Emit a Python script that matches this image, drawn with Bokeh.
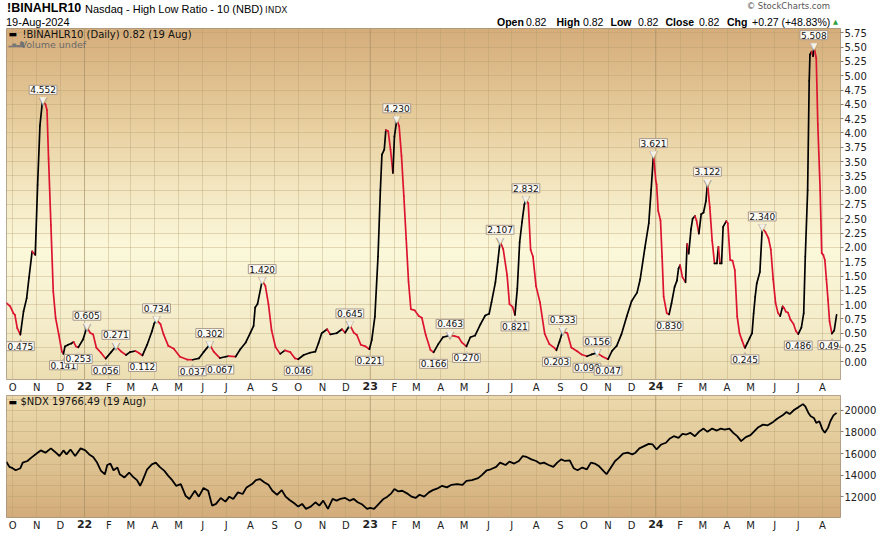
import numpy as np
import pandas as pd
from bokeh.plotting import figure
from bokeh.layouts import column
from bokeh.models import (Range1d, FixedTicker, NumeralTickFormatter, Label, Div, DatetimeAxis,
                          ColumnDataSource, GlobalInlineStyleSheet, Span)
from bokeh.core.properties import value
from bokeh.embed import file_html
from bokeh.resources import INLINE

# ---------------- data ----------------
ratio_dates = [
    "2021-09-23", "2021-09-28", "2021-10-02", "2021-10-04", "2021-10-07", "2021-10-11", "2021-10-15", "2021-10-19",
    "2021-10-22", "2021-10-26", "2021-10-30", "2021-11-02", "2021-11-05", "2021-11-08", "2021-11-09", "2021-11-12",
    "2021-11-14", "2021-11-16", "2021-11-19", "2021-11-22", "2021-11-25", "2021-11-29", "2021-12-03", "2021-12-05",
    "2021-12-07", "2021-12-11", "2021-12-15", "2021-12-18", "2021-12-21", "2021-12-24", "2021-12-30", "2022-01-04",
    "2022-01-08", "2022-01-12", "2022-01-16", "2022-01-22", "2022-01-28", "2022-02-04", "2022-02-10", "2022-02-17",
    "2022-02-23", "2022-02-28", "2022-03-07", "2022-03-11", "2022-03-16", "2022-03-22", "2022-03-28", "2022-03-31",
    "2022-04-03", "2022-04-08", "2022-04-12", "2022-04-18", "2022-04-25", "2022-05-03", "2022-05-12", "2022-05-19",
    "2022-05-27", "2022-06-02", "2022-06-10", "2022-06-15", "2022-06-23", "2022-06-30", "2022-07-04", "2022-07-13",
    "2022-07-19", "2022-07-26", "2022-08-01", "2022-08-05", "2022-08-07", "2022-08-10", "2022-08-16", "2022-08-20",
    "2022-08-24", "2022-08-28", "2022-09-02", "2022-09-08", "2022-09-14", "2022-09-21", "2022-09-27", "2022-10-01",
    "2022-10-08", "2022-10-16", "2022-10-23", "2022-10-27", "2022-10-31", "2022-11-07", "2022-11-11", "2022-11-19",
    "2022-11-26", "2022-11-30", "2022-12-06", "2022-12-11", "2022-12-15", "2022-12-20", "2022-12-26", "2022-12-31",
    "2023-01-03", "2023-01-07", "2023-01-11", "2023-01-14", "2023-01-16", "2023-01-19", "2023-01-21", "2023-01-24",
    "2023-01-27", "2023-01-30", "2023-02-01", "2023-02-04", "2023-02-07", "2023-02-10", "2023-02-13", "2023-02-16",
    "2023-02-19", "2023-02-22", "2023-02-27", "2023-03-04", "2023-03-08", "2023-03-13", "2023-03-19", "2023-03-23",
    "2023-03-29", "2023-04-04", "2023-04-13", "2023-04-19", "2023-04-24", "2023-04-28", "2023-05-04", "2023-05-09",
    "2023-05-15", "2023-05-22", "2023-05-28", "2023-06-02", "2023-06-05", "2023-06-10", "2023-06-13", "2023-06-16",
    "2023-06-20", "2023-06-25", "2023-06-28", "2023-07-02", "2023-07-05", "2023-07-08", "2023-07-11", "2023-07-14",
    "2023-07-17", "2023-07-19", "2023-07-22", "2023-07-25", "2023-07-28", "2023-08-01", "2023-08-06", "2023-08-12",
    "2023-08-18", "2023-08-24", "2023-08-27", "2023-08-31", "2023-09-04", "2023-09-10", "2023-09-15", "2023-09-22",
    "2023-09-28", "2023-10-05", "2023-10-11", "2023-10-18", "2023-10-24", "2023-11-01", "2023-11-06", "2023-11-12",
    "2023-11-18", "2023-11-25", "2023-12-01", "2023-12-08", "2023-12-12", "2023-12-18", "2023-12-23", "2023-12-26",
    "2023-12-29", "2024-01-01", "2024-01-02", "2024-01-04", "2024-01-07", "2024-01-09", "2024-01-11", "2024-01-15",
    "2024-01-18", "2024-01-21", "2024-01-25", "2024-01-28", "2024-01-30", "2024-02-01", "2024-02-04", "2024-02-08",
    "2024-02-10", "2024-02-12", "2024-02-15", "2024-02-17", "2024-02-20", "2024-02-22", "2024-02-25", "2024-02-28",
    "2024-03-02", "2024-03-05", "2024-03-07", "2024-03-10", "2024-03-13", "2024-03-16", "2024-03-19", "2024-03-21",
    "2024-03-23", "2024-03-25", "2024-03-27", "2024-03-31", "2024-04-02", "2024-04-05", "2024-04-08", "2024-04-11",
    "2024-04-14", "2024-04-17", "2024-04-20", "2024-04-23", "2024-04-24", "2024-04-27", "2024-04-30", "2024-05-03",
    "2024-05-05", "2024-05-07", "2024-05-09", "2024-05-13", "2024-05-16", "2024-05-20", "2024-05-24", "2024-05-27",
    "2024-05-30", "2024-06-02", "2024-06-05", "2024-06-08", "2024-06-11", "2024-06-13", "2024-06-15", "2024-06-18",
    "2024-06-21", "2024-06-25", "2024-06-28", "2024-07-01", "2024-07-05", "2024-07-08", "2024-07-10", "2024-07-13",
    "2024-07-15", "2024-07-16", "2024-07-18", "2024-07-20", "2024-07-21", "2024-07-24", "2024-07-26", "2024-07-29",
    "2024-07-31", "2024-08-02", "2024-08-04", "2024-08-06", "2024-08-08", "2024-08-10", "2024-08-13", "2024-08-16",
    "2024-08-19",
]
ratio_values = [
    1.03, 0.97, 0.85, 0.82, 0.59, 0.475, 0.88, 1.11,
    1.47, 1.93, 1.87, 3.09, 4.13, 4.53, 4.552, 4.50,
    4.40, 3.55, 2.39, 1.23, 0.77, 0.48, 0.18, 0.141,
    0.27, 0.30, 0.32, 0.35, 0.27, 0.253, 0.39, 0.605,
    0.51, 0.48, 0.25, 0.16, 0.056, 0.17, 0.271, 0.18,
    0.12, 0.17, 0.19, 0.16, 0.112, 0.30, 0.53, 0.67,
    0.734, 0.66, 0.48, 0.28, 0.23, 0.09, 0.04, 0.037,
    0.06, 0.17, 0.302, 0.18, 0.067, 0.09, 0.10, 0.09,
    0.22, 0.34, 0.51, 0.63, 0.95, 1.01, 1.420, 1.33,
    1.01, 0.55, 0.26, 0.14, 0.20, 0.17, 0.06, 0.046,
    0.12, 0.16, 0.18, 0.33, 0.50, 0.57, 0.48, 0.50,
    0.57, 0.51, 0.645, 0.51, 0.47, 0.30, 0.27, 0.221,
    0.38, 0.79, 1.84, 3.00, 3.62, 3.71, 4.05, 4.03,
    3.71, 3.30, 3.94, 4.230, 4.12, 3.60, 2.90, 2.15,
    1.40, 0.92, 0.90, 0.80, 0.77, 0.47, 0.21, 0.166,
    0.31, 0.43, 0.463, 0.45, 0.43, 0.34, 0.270, 0.43,
    0.46, 0.66, 0.81, 0.84, 1.04, 1.39, 1.74, 2.107,
    1.97, 1.51, 1.01, 0.96, 0.821, 1.28, 2.09, 2.44,
    2.75, 2.832, 2.77, 1.96, 1.84, 1.32, 1.04, 0.49,
    0.31, 0.25, 0.203, 0.36, 0.533, 0.50, 0.25, 0.19,
    0.13, 0.098, 0.13, 0.156, 0.10, 0.047, 0.19, 0.28,
    0.48, 0.80, 1.06, 1.21, 1.44, 1.99, 2.42, 3.00,
    3.621, 3.16, 3.10, 2.64, 2.47, 1.84, 1.14, 0.85,
    0.830, 1.02, 1.31, 1.42, 1.63, 1.69, 1.48, 1.39,
    2.06, 1.89, 2.32, 2.50, 2.55, 2.47, 2.24, 2.58,
    2.61, 2.81, 3.122, 2.70, 2.12, 1.72, 1.72, 2.01,
    1.72, 1.72, 2.36, 2.46, 2.42, 1.78, 1.77, 1.60,
    0.79, 0.50, 0.38, 0.27, 0.245, 0.33, 0.42, 0.50,
    0.85, 1.14, 1.37, 1.57, 2.340, 2.27, 2.16, 1.96,
    1.44, 1.03, 0.86, 0.80, 0.97, 0.94, 0.88, 0.86,
    0.74, 0.66, 0.54, 0.486, 0.60, 0.85, 1.84, 3.00,
    4.91, 5.37, 5.42, 5.34, 5.508, 5.31, 4.15, 3.00,
    1.90, 1.87, 1.78, 1.44, 1.09, 0.71, 0.494, 0.55,
    0.82,
]
# annotated turning points (values are looked up in the series)
peak_dates = ["2021-11-09", "2022-01-04", "2022-02-10", "2022-04-03", "2022-06-10", "2022-08-16",
              "2022-12-06", "2023-02-04", "2023-04-13", "2023-06-16", "2023-07-19", "2023-09-04",
              "2023-10-18", "2023-12-29", "2024-03-07", "2024-05-16", "2024-07-21"]
trough_dates = ["2021-10-11", "2021-12-05", "2021-12-24", "2022-01-28", "2022-03-16", "2022-05-19",
                "2022-06-23", "2022-10-01", "2022-12-31", "2023-03-23", "2023-05-04", "2023-07-05",
                "2023-08-27", "2023-10-05", "2023-11-01", "2024-01-18", "2024-04-24", "2024-07-01",
                "2024-08-13"]

ndx_dates = [
    "2021-09-23", "2021-09-27", "2021-10-01", "2021-10-05", "2021-10-11", "2021-10-14", "2021-10-20", "2021-10-25",
    "2021-11-02", "2021-11-06", "2021-11-12", "2021-11-19", "2021-11-24", "2021-11-30", "2021-12-05", "2021-12-09",
    "2021-12-14", "2021-12-20", "2021-12-27", "2022-01-02", "2022-01-07", "2022-01-12", "2022-01-17", "2022-01-22",
    "2022-01-27", "2022-01-30", "2022-02-03", "2022-02-07", "2022-02-12", "2022-02-15", "2022-02-21", "2022-02-27",
    "2022-03-04", "2022-03-09", "2022-03-13", "2022-03-16", "2022-03-22", "2022-03-28", "2022-04-02", "2022-04-07",
    "2022-04-13", "2022-04-18", "2022-04-23", "2022-04-28", "2022-05-04", "2022-05-10", "2022-05-15", "2022-05-22",
    "2022-05-27", "2022-06-02", "2022-06-08", "2022-06-13", "2022-06-18", "2022-06-24", "2022-06-30", "2022-07-05",
    "2022-07-10", "2022-07-16", "2022-07-22", "2022-07-27", "2022-08-03", "2022-08-08", "2022-08-13", "2022-08-19",
    "2022-08-24", "2022-08-29", "2022-09-04", "2022-09-10", "2022-09-15", "2022-09-20", "2022-09-26", "2022-10-01",
    "2022-10-06", "2022-10-11", "2022-10-17", "2022-10-23", "2022-10-28", "2022-11-02", "2022-11-08", "2022-11-14",
    "2022-11-19", "2022-11-24", "2022-11-30", "2022-12-06", "2022-12-11", "2022-12-16", "2022-12-22", "2022-12-28",
    "2023-01-01", "2023-01-06", "2023-01-12", "2023-01-18", "2023-01-23", "2023-01-28", "2023-02-01", "2023-02-06",
    "2023-02-11", "2023-02-17", "2023-02-23", "2023-02-28", "2023-03-05", "2023-03-11", "2023-03-17", "2023-03-22",
    "2023-03-29", "2023-04-03", "2023-04-09", "2023-04-15", "2023-04-22", "2023-04-29", "2023-05-04", "2023-05-11",
    "2023-05-19", "2023-05-24", "2023-05-30", "2023-06-04", "2023-06-11", "2023-06-16", "2023-06-23", "2023-06-28",
    "2023-07-04", "2023-07-10", "2023-07-15", "2023-07-20", "2023-07-26", "2023-08-01", "2023-08-06", "2023-08-11",
    "2023-08-17", "2023-08-23", "2023-08-28", "2023-09-02", "2023-09-07", "2023-09-13", "2023-09-18", "2023-09-23",
    "2023-09-29", "2023-10-05", "2023-10-10", "2023-10-15", "2023-10-20", "2023-10-26", "2023-10-30", "2023-11-04",
    "2023-11-10", "2023-11-15", "2023-11-20", "2023-11-26", "2023-12-02", "2023-12-06", "2023-12-11", "2023-12-17",
    "2023-12-23", "2023-12-28", "2024-01-02", "2024-01-08", "2024-01-14", "2024-01-19", "2024-01-24", "2024-01-30",
    "2024-02-04", "2024-02-09", "2024-02-14", "2024-02-20", "2024-02-26", "2024-03-02", "2024-03-07", "2024-03-13",
    "2024-03-19", "2024-03-24", "2024-03-29", "2024-04-04", "2024-04-09", "2024-04-14", "2024-04-19", "2024-04-25",
    "2024-05-01", "2024-05-06", "2024-05-11", "2024-05-17", "2024-05-23", "2024-05-30", "2024-06-04", "2024-06-11",
    "2024-06-16", "2024-06-20", "2024-06-26", "2024-07-01", "2024-07-07", "2024-07-10", "2024-07-14", "2024-07-17",
    "2024-07-21", "2024-07-24", "2024-07-28", "2024-08-01", "2024-08-04", "2024-08-08", "2024-08-11", "2024-08-15",
    "2024-08-19",
]
ndx_values = [
    15250, 14760, 14640, 14450, 14640, 15160, 15310, 15620,
    16080, 16290, 16080, 16480, 16170, 15770, 16290, 15920,
    16380, 15770, 16480, 16290, 15920, 15680, 15160, 14390,
    14080, 14940, 15070, 14450, 14700, 14080, 13780, 14240,
    13840, 13530, 13010, 13470, 14540, 15000, 15160, 14760,
    14390, 13930, 13530, 13010, 13170, 12090, 11790, 12550,
    12000, 12800, 12550, 11170, 11330, 11880, 11540, 12000,
    11790, 12400, 12250, 12860, 13170, 13530, 13630, 13320,
    13100, 12550, 12180, 12610, 12000, 11690, 11390, 11080,
    11330, 10870, 11080, 11480, 11170, 11630, 10870, 11790,
    11630, 11790, 11880, 11630, 11790, 11480, 11270, 10870,
    10960, 10870, 11330, 11790, 12000, 12310, 12710, 12490,
    12550, 12310, 12000, 11880, 12180, 12000, 12400, 12610,
    12800, 13010, 12860, 13100, 13170, 13100, 13470, 13530,
    13720, 14020, 14450, 14540, 14760, 15160, 14940, 15250,
    15070, 15310, 15770, 15680, 15460, 15310, 15070, 15160,
    14940, 14760, 15160, 15460, 15310, 15370, 14640, 14450,
    14700, 14540, 15160, 15070, 14850, 14390, 14080, 14640,
    15310, 15620, 15990, 16080, 15920, 16080, 16480, 16690,
    16900, 16840, 16380, 16840, 17000, 17400, 17610, 17460,
    17820, 17760, 17920, 17610, 18070, 18310, 18010, 18310,
    18130, 18310, 18220, 18310, 17920, 17610, 17150, 17520,
    17700, 18070, 18440, 18680, 18620, 18930, 19230, 19540,
    19850, 19660, 20060, 20280, 20580, 20370, 19760, 19450,
    19300, 18840, 18990, 18220, 17920, 18380, 18990, 19540,
    19766.49,
]

month_labels = ["O", "N", "D", "22", "F", "M", "A", "M", "J", "J", "A", "S", "O", "N", "D",
                "23", "F", "M", "A", "M", "J", "J", "A", "S", "O", "N", "D",
                "24", "F", "M", "A", "M", "J", "J", "A"]
ratio_ticks = [0.00, 0.25, 0.50, 0.75, 1.00, 1.25, 1.50, 1.75, 2.00, 2.25, 2.50, 2.75,
               3.00, 3.25, 3.50, 3.75, 4.00, 4.25, 4.50, 4.75, 5.00, 5.25, 5.50, 5.75]
ndx_ticks = [12000, 14000, 16000, 18000, 20000]
ndx_minor_ticks = [11000, 13000, 15000, 17000, 19000, 21000]

# ---------------- styling helpers ----------------
FONT = "DejaVu Sans"
ARIAL = "Liberation Sans"
GRID = "#b39a6e"
RED = "#dc1430"


def ms(d):
    return float(pd.Timestamp(d).value // 10**6)


month_starts = pd.date_range("2021-10-01", periods=len(month_labels), freq="MS")
month_ms = [ms(d) for d in month_starts]
X0, X1 = ms("2021-09-23 06:00"), ms("2024-08-24 00:00")


def gradient(stops, n=240):
    pos = np.array([s[0] for s in stops])
    cols = np.array([s[1] for s in stops], dtype=float)
    t = np.linspace(0, 1, n)
    rgb = np.stack([np.interp(t, pos, cols[:, k]) for k in range(3)], axis=1)[::-1]
    img = np.empty((n, 1), dtype=np.uint32)
    view = img.view(dtype=np.uint8).reshape((n, 1, 4))
    view[:, 0, :3] = np.round(rgb).astype(np.uint8)
    view[:, 0, 3] = 255
    return img


def style_axis_text(ax, bold=False):
    ax.axis_line_color = None
    ax.minor_tick_line_color = None
    ax.minor_tick_in = 0
    ax.minor_tick_out = 0
    ax.major_label_text_font = FONT
    ax.major_label_text_font_size = "11px" if bold else "10px"
    ax.major_label_text_font_style = "bold" if bold else "normal"
    ax.major_label_text_color = "#222222"


def make_fig(height, y0, y1, yticks, yfmt, stops, yminor=None):
    p = figure(width=882, height=height, x_axis_type="datetime", y_axis_location="right",
               x_range=Range1d(X0, X1), y_range=Range1d(y0, y1), title=None,
               output_backend="svg", toolbar_location=None,
               min_border_left=6, min_border_right=42, min_border_top=0,
               min_border_bottom=14)
    p.background_fill_color = "white"
    p.border_fill_color = "white"
    p.outline_line_color = "#a39381"
    p.outline_line_width = 1
    p.image_rgba(image=[gradient(stops)], x=X0, y=y0, dw=X1 - X0, dh=y1 - y0, level="image")

    ticker = FixedTicker(ticks=month_ms)
    p.xaxis.ticker = ticker
    p.xgrid.ticker = ticker
    p.xaxis.major_label_overrides = {t: ("" if lab.isdigit() else lab)
                                     for t, lab in zip(month_ms, month_labels)}
    style_axis_text(p.xaxis)
    style_axis_text(p.yaxis)
    p.xaxis.major_tick_line_color = None
    p.xaxis.major_tick_in = 0
    p.xaxis.major_tick_out = 0
    p.xaxis.major_label_standoff = 2

    # bold year labels drawn on a second axis that overlaps the month row
    jan = [(t, lab) for t, lab in zip(month_ms, month_labels) if lab.isdigit()]
    yax = DatetimeAxis(ticker=FixedTicker(ticks=[t for t, _ in jan]),
                       major_label_overrides={t: lab for t, lab in jan})
    style_axis_text(yax, bold=True)
    yax.major_tick_line_color = None
    yax.major_tick_in = 0
    yax.major_tick_out = 0
    yax.major_label_standoff = -14
    p.add_layout(yax, "below")
    for t, _ in jan:
        p.add_layout(Span(location=t, dimension="height", line_color="#9c845e",
                          line_alpha=0.45, line_width=1, level="underlay"))

    yt = FixedTicker(ticks=yticks, minor_ticks=yminor or [])
    p.yaxis.ticker = yt
    p.ygrid.ticker = yt
    p.yaxis.formatter = NumeralTickFormatter(format=yfmt)
    p.yaxis.major_tick_in = 0
    p.yaxis.major_tick_out = 3
    p.yaxis.major_tick_line_color = "#8c8070"
    p.yaxis.major_label_standoff = 1
    for g in (p.xgrid, p.ygrid):
        g.grid_line_color = GRID
        g.grid_line_alpha = 0.35
        g.grid_line_width = 1
    if yminor:
        p.ygrid.minor_grid_line_color = GRID
        p.ygrid.minor_grid_line_alpha = 0.35
    return p


def screen_label(p, x, y, text, size="11px", font=ARIAL, bold=False, color="#000000",
                 align="left"):
    p.add_layout(Label(x=x, y=y, x_units="screen", y_units="screen", text=text,
                       text_font=font, text_font_size=size,
                       text_font_style="bold" if bold else "normal",
                       text_color=color, text_align=align, text_baseline="middle"))


# ---------------- header (HTML text) ----------------
def span(x, y, text, size=11, bold=False, font=ARIAL, color="#000", extra=""):
    return (f'<span style="position:absolute;left:{x}px;top:{y}px;font-family:\'{font}\';'
            f'font-size:{size}px;line-height:{size + 3}px;white-space:nowrap;color:{color};'
            f'font-weight:{"bold" if bold else "normal"};{extra}">{text}</span>')


parts = [
    span(7, 0.5, "!BINAHLR10", 12.5, True),
    span(85, 1.5, "Nasdaq - High Low Ratio - 10 (NBD)", 11),
    span(265, 3.5, "INDX", 9, font=FONT, color="#222"),
    span(6, 15, "19-Aug-2024", 11),
    '<span style="position:absolute;right:52px;top:0px;font-family:\'DejaVu Sans\';'
    'font-size:8.5px;line-height:12px;color:#555;white-space:nowrap;">&copy; StockCharts.com</span>',
]
hdr = [(497, "Open", True), (526, "0.82", False), (556.5, "High", True), (583, "0.82", False),
       (610.5, "Low", True), (638, "0.82", False), (665.5, "Close", True), (699, "0.82", False),
       (727, "Chg", True), (752, "+0.27 (+48.83%)", False)]
for hx, htxt, hb in hdr:
    parts.append(span(hx, 15.5, htxt, 10.5, hb))
parts.append(span(833, 17.5, "&#9650;", 6.5, font=FONT, color="#2e9e3e"))
header = Div(width=882, height=28,
             text='<div style="position:relative;width:882px;height:28px;overflow:hidden;">'
                  + "".join(parts) + "</div>",
             styles={"margin": "0", "padding": "0"})

# ---------------- top panel ----------------
TOP_FRAME_TOP, TOP_FRAME_BOTTOM, FRAME_LEFT = 28, 380, 6
top = make_fig(367, -0.308, 5.825, ratio_ticks, "0.00",
               [(0.0, (213, 173, 123)), (0.25, (230, 204, 155)), (0.45, (243, 230, 192)),
                (0.63, (251, 248, 218)), (0.85, (244, 236, 202)), (1.0, (236, 222, 178))])

rd = pd.to_datetime(ratio_dates)
rv = np.array(ratio_values)
seg_color = np.where(rv[1:] >= rv[:-1], "#000000", RED)
seg = ColumnDataSource(dict(x0=rd[:-1], x1=rd[1:], y0=rv[:-1], y1=rv[1:], c=seg_color))
top.segment("x0", "y0", "x1", "y1", source=seg, line_color="c", line_width=1.7,
            line_cap="round")

lookup = dict(zip(ratio_dates, ratio_values))
pk_x = pd.to_datetime(peak_dates)
pk_y = [lookup[d] for d in peak_dates]
tr_x = pd.to_datetime(trough_dates)
tr_y = [lookup[d] for d in trough_dates]

box_kw = dict(text_font=value(FONT), text_font_size="9px", text_color="#111111",
              text_align="center", background_fill_color="#fcfaf4",
              border_line_color="#a8998a", border_line_width=1, padding=1)
ptr_kw = dict(text_font=value(FONT), text_align="center", text_baseline="alphabetic")

top.text(x=pk_x, y=pk_y, text=["▼"] * len(pk_y), text_font_size="11px",
         text_color="#a8998a", y_offset=0, **ptr_kw)
top.text(x=pk_x, y=pk_y, text=["▼"] * len(pk_y), text_font_size="9px",
         text_color="#f6f1e6", y_offset=-1, **ptr_kw)
top.text(x=tr_x, y=tr_y, text=["▲"] * len(tr_y), text_font_size="11px",
         text_color="#a8998a", y_offset=8, **ptr_kw)
top.text(x=tr_x, y=tr_y, text=["▲"] * len(tr_y), text_font_size="9px",
         text_color="#f6f1e6", y_offset=8, **ptr_kw)
top.text(x=pk_x, y=pk_y, text=[f"{v:.3f}" for v in pk_y], text_baseline="bottom",
         y_offset=-7, **box_kw)
top.text(x=tr_x, y=tr_y, text=[f"{v:.3f}" for v in tr_y], text_baseline="top",
         y_offset=7, **box_kw)


def tx(x):
    return x - FRAME_LEFT


def ty(y):
    return TOP_FRAME_BOTTOM - y


# legend
screen_label(top, tx(8), ty(34.5), "▬", size="9px", font=FONT)
screen_label(top, tx(22), ty(34.5), "!BINAHLR10 (Daily) 0.82 (19 Aug)", size="10px", font=FONT,
             color="#111111")
screen_label(top, tx(8), ty(44.5), "▂▅▃▇", size="5px", font=FONT, color="#777777")
screen_label(top, tx(20), ty(44.5), "Volume undef", size="9.5px", font=FONT, color="#6a6a6a")

# ---------------- bottom panel ----------------
BOT_FRAME_TOP, BOT_FRAME_BOTTOM = 395, 518
bot = make_fig(138, 10070, 21380, ndx_ticks, "0",
               [(0.0, (235, 217, 172)), (0.5, (224, 198, 149)), (1.0, (211, 172, 122))],
               yminor=ndx_minor_ticks)
bot.line(pd.to_datetime(ndx_dates), ndx_values, line_color="#000000", line_width=1.8)


def by(y):
    return BOT_FRAME_BOTTOM - y


screen_label(bot, tx(8), by(402), "▬", size="9px", font=FONT)
screen_label(bot, tx(20), by(402), "$NDX 19766.49 (19 Aug)", size="10px", font=FONT,
             color="#111111")

layout = column(header, top, bot, spacing=0,
                stylesheets=[GlobalInlineStyleSheet(css="body { margin: 0 !important; }")])

open("out.html", "w").write(file_html(layout, INLINE))
